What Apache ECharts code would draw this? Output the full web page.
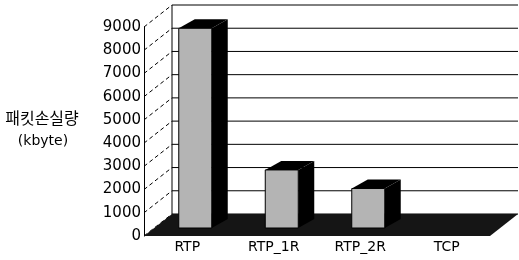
<!DOCTYPE html>
<html>
<head>
<meta charset="utf-8">
<script src="https://cdn.jsdelivr.net/npm/echarts@6/dist/echarts.min.js"></script>
<style>
  html, body { margin: 0; padding: 0; background: #fff; }
  #chart { width: 519px; height: 260px; }
</style>
</head>
<body>
<div id="chart"></div>
<script>
const categories = ["RTP", "RTP_1R", "RTP_2R", "TCP"];
const lossKbyte = [8600, 2500, 1700, 0];
const yTicks = [0, 1000, 2000, 3000, 4000, 5000, 6000, 7000, 8000, 9000];

// pseudo 3D depth of the box and the bars (pixels)
const depth = [28, -22];
const barFront = [8, -8];
const barDepth = [16, -9];
const barWidth = 33;

const chart = echarts.init(document.getElementById("chart"));

function renderWall(params, api) {
  const cs = params.coordSys;
  const y = api.coord([0, api.value(1)])[1];
  const bx = cs.x + depth[0];
  const by = y + depth[1];
  return {
    type: "group",
    children: [
      {
        type: "line",
        shape: { x1: cs.x, y1: y, x2: bx, y2: by },
        style: { stroke: "#000", lineWidth: 1, lineDash: [4, 3] },
      },
      {
        type: "line",
        shape: { x1: bx, y1: by, x2: cs.x + cs.width + depth[0], y2: by },
        style: { stroke: "#000", lineWidth: 1 },
      },
    ],
  };
}

function renderFloor(params, api) {
  const cs = params.coordSys;
  const y0 = api.coord([0, 0])[1];
  const yTop = api.coord([0, yTicks[yTicks.length - 1]])[1];
  const x1 = cs.x + cs.width;
  return {
    type: "group",
    children: [
      {
        type: "line",
        shape: { x1: cs.x + depth[0], y1: y0 + depth[1], x2: cs.x + depth[0], y2: yTop + depth[1] },
        style: { stroke: "#000", lineWidth: 1 },
      },
      {
        type: "polygon",
        shape: {
          points: [
            [cs.x, y0],
            [x1, y0],
            [x1 + depth[0], y0 + depth[1]],
            [cs.x + depth[0], y0 + depth[1]],
          ],
        },
        style: { fill: "#151515" },
      },
    ],
  };
}

function renderBar(params, api) {
  const i = api.value(0);
  const v = api.value(1);
  const base = api.coord([i, 0]);
  const top = api.coord([i, v]);
  const x0 = base[0] + barFront[0] - barWidth / 2;
  const x1 = x0 + barWidth;
  const yB = base[1] + barFront[1];
  const yT = top[1] + barFront[1];
  const dx = barDepth[0];
  const dy = barDepth[1];
  if (v <= 0) return null;
  return {
    type: "group",
    children: [
      {
        type: "polygon",
        shape: { points: [[x1, yT], [x1 + dx, yT + dy], [x1 + dx, yB + dy], [x1, yB]] },
        style: { fill: "#000" },
      },
      {
        type: "polygon",
        shape: { points: [[x0, yT], [x0 + dx, yT + dy], [x1 + dx, yT + dy], [x1, yT]] },
        style: { fill: "#000" },
      },
      {
        type: "rect",
        shape: { x: x0, y: yT, width: barWidth, height: yB - yT },
        style: { fill: "#b4b4b4", stroke: "#000", lineWidth: 1 },
      },
    ],
  };
}

chart.setOption({
  animation: false,
  textStyle: { fontFamily: "DejaVu Sans, Noto Sans CJK KR, sans-serif" },
  grid: { left: 144, right: 29, top: 27, bottom: 24 },
  xAxis: {
    type: "category",
    data: categories,
    axisLine: { show: false },
    axisTick: { show: false },
    axisLabel: { color: "#000", fontSize: 14, margin: 4 },
  },
  yAxis: {
    type: "value",
    min: 0,
    max: 9000,
    interval: 1000,
    axisLine: { show: true, lineStyle: { color: "#000", width: 1 } },
    axisTick: { show: false },
    splitLine: { show: false },
    axisLabel: { color: "#000", fontSize: 15, margin: 3, formatter: (v) => String(v) },
  },
  graphic: [
    {
      type: "text",
      x: 42,
      y: 118,
      style: {
        text: "패킷손실량",
        fontSize: 16,
        fontFamily: "Noto Sans CJK KR",
        fill: "#000",
        align: "center",
        verticalAlign: "middle",
      },
    },
    {
      type: "text",
      x: 43,
      y: 141,
      style: {
        text: "(kbyte)",
        fontSize: 14,
        fontFamily: "DejaVu Sans",
        fill: "#000",
        align: "center",
        verticalAlign: "middle",
      },
    },
  ],
  series: [
    {
      type: "custom",
      name: "wall",
      z: 1,
      clip: false,
      encode: { x: 0, y: 1 },
      data: yTicks.map((v) => [0, v]),
      renderItem: renderWall,
    },
    {
      type: "custom",
      name: "floor",
      z: 2,
      clip: false,
      encode: { x: 0, y: 1 },
      data: [[0, 0]],
      renderItem: renderFloor,
    },
    {
      type: "custom",
      name: "패킷손실량",
      z: 3,
      clip: false,
      encode: { x: 0, y: 1 },
      data: lossKbyte.map((v, i) => [i, v]),
      renderItem: renderBar,
    },
  ],
});
</script>
</body>
</html>
